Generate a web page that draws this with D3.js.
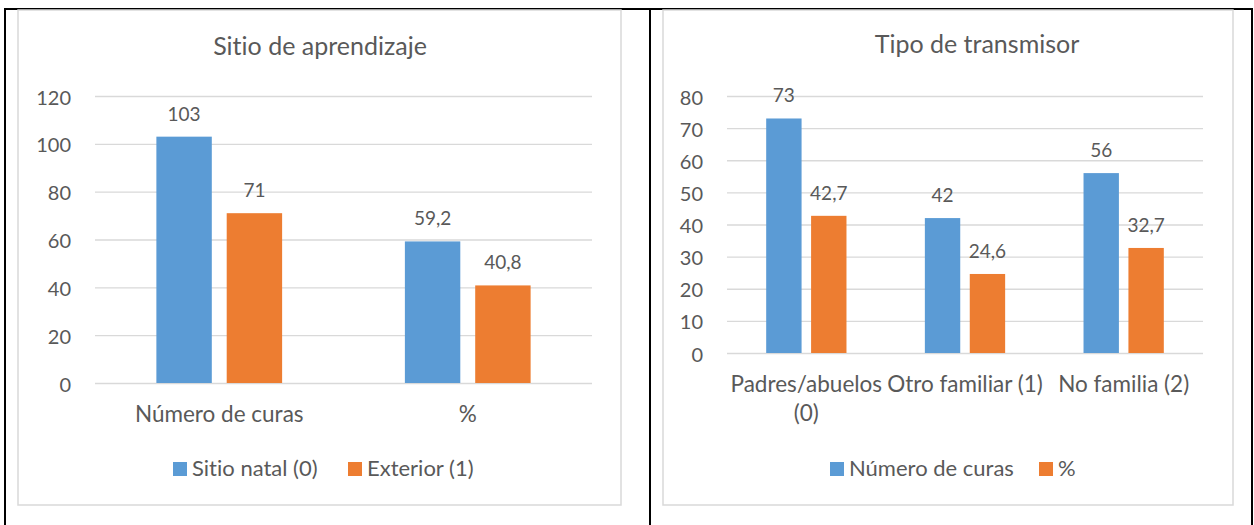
<!DOCTYPE html>
<html>
<head>
<meta charset="utf-8">
<script src="https://cdn.jsdelivr.net/npm/d3@7"></script>
<style>
  html, body { margin: 0; padding: 0; background: #fff; }
  svg { display: block; }
  text { font-family: Lato, "Open Sans", sans-serif; fill: #595959; font-variant-ligatures: none; }
</style>
</head>
<body>
<svg id="chart" width="1254" height="525"></svg>
<script>
// left chart: Sitio de aprendizaje
const leftCategories = ["Número de curas", "%"];
const leftSeries = ["Sitio natal (0)", "Exterior (1)"];
const leftSitioNatal = [103, 59.2];
const leftExterior = [71, 40.8];
const leftTicks = [0, 20, 40, 60, 80, 100, 120];

// right chart: Tipo de transmisor
const rightCategories = [["Padres/abuelos", "(0)"], ["Otro familiar (1)"], ["No familia (2)"]];
const rightSeries = ["Número de curas", "%"];
const rightNumero = [73, 42, 56];
const rightPct = [42.7, 24.6, 32.7];
const rightTicks = [0, 10, 20, 30, 40, 50, 60, 70, 80];

const colors = ["#5B9BD5", "#ED7D31"];
const fmt = (v) => String(v).replace(".", ",");

const svg = d3.select("#chart");

// table borders
const border = svg.append("g").attr("stroke", "#000").attr("stroke-width", 2);
border.append("line").attr("x1", 4).attr("x2", 1253).attr("y1", 9).attr("y2", 9);
[5, 650, 1252].forEach((x) => {
  border.append("line").attr("x1", x).attr("x2", x).attr("y1", 8).attr("y2", 525);
});

function drawChart(cfg) {
  const g = svg.append("g");

  g.append("rect")
    .attr("x", cfg.frame[0]).attr("y", cfg.frame[1])
    .attr("width", cfg.frame[2]).attr("height", cfg.frame[3])
    .attr("fill", "#fff").attr("stroke", "#D9D9D9").attr("stroke-width", 1.5);

  g.append("text")
    .attr("x", cfg.titleX).attr("y", cfg.titleY)
    .attr("text-anchor", "middle")
    .style("font-size", "25px")
    .text(cfg.title);

  const y = d3.scaleLinear().domain([0, d3.max(cfg.ticks)]).range([cfg.y0, cfg.y1]);
  const x0 = d3.scaleBand().domain(d3.range(cfg.categories.length)).range([cfg.x0, cfg.x1]);
  const bw = x0.bandwidth();
  const barW = bw * 0.223;
  const gap = bw * 0.06;
  const groupW = barW * 2 + gap;
  const x1 = d3.scaleBand().domain([0, 1]).range([0, groupW]).paddingInner(gap / (barW + gap));

  // gridlines + tick labels via axis
  const axis = d3.axisLeft(y).tickValues(cfg.ticks).tickSize(-(cfg.x1 - cfg.x0)).tickPadding(24);
  const ag = g.append("g").attr("transform", `translate(${cfg.x0},0)`).call(axis);
  ag.select(".domain").remove();
  ag.selectAll(".tick line").attr("stroke", "#D9D9D9").attr("stroke-width", 1.3);
  ag.selectAll(".tick text")
    .attr("fill", "#595959")
    .style("font-family", "Lato, sans-serif")
    .style("font-size", "20px")
    .attr("dy", "0.4em");

  const series = [cfg.a, cfg.b];
  series.forEach((vals, si) => {
    const off = (bw - groupW) / 2 + x1(si);
    g.selectAll(null).data(vals).enter().append("rect")
      .attr("x", (d, i) => x0(i) + off)
      .attr("y", (d) => y(d))
      .attr("width", x1.bandwidth())
      .attr("height", (d) => y(0) - y(d))
      .attr("fill", colors[si]);
    g.selectAll(null).data(vals).enter().append("text")
      .attr("x", (d, i) => x0(i) + off + x1.bandwidth() / 2)
      .attr("y", (d) => y(d) - 16)
      .attr("text-anchor", "middle")
      .style("font-size", "19px")
      .text((d) => fmt(d));
  });

  // category labels
  cfg.categories.forEach((c, i) => {
    const lines = Array.isArray(c) ? c : [c];
    lines.forEach((ln, li) => {
      g.append("text")
        .attr("x", x0(i) + bw / 2)
        .attr("y", cfg.y0 + 39 + li * 29)
        .attr("text-anchor", "middle")
        .style("font-size", "22.5px")
        .text(ln);
    });
  });

  // legend
  cfg.series.forEach((s, si) => {
    g.append("rect")
      .attr("x", cfg.legendX[si]).attr("y", 462)
      .attr("width", 14).attr("height", 14)
      .attr("fill", colors[si]);
    g.append("text")
      .attr("x", cfg.legendX[si] + 19).attr("y", 476)
      .style("font-size", "22px")
      .text(s);
  });
}

drawChart({
  frame: [18, 10, 603, 495],
  title: "Sitio de aprendizaje",
  titleX: 320, titleY: 55,
  categories: leftCategories,
  series: leftSeries,
  a: leftSitioNatal, b: leftExterior,
  ticks: leftTicks,
  x0: 95, x1: 592, y0: 383, y1: 96,
  legendX: [173, 348]
});

drawChart({
  frame: [663, 10, 570, 495],
  title: "Tipo de transmisor",
  titleX: 977, titleY: 53,
  categories: rightCategories,
  series: rightSeries,
  a: rightNumero, b: rightPct,
  ticks: rightTicks,
  x0: 727, x1: 1203, y0: 353, y1: 96,
  legendX: [830, 1039]
});
</script>
</body>
</html>
